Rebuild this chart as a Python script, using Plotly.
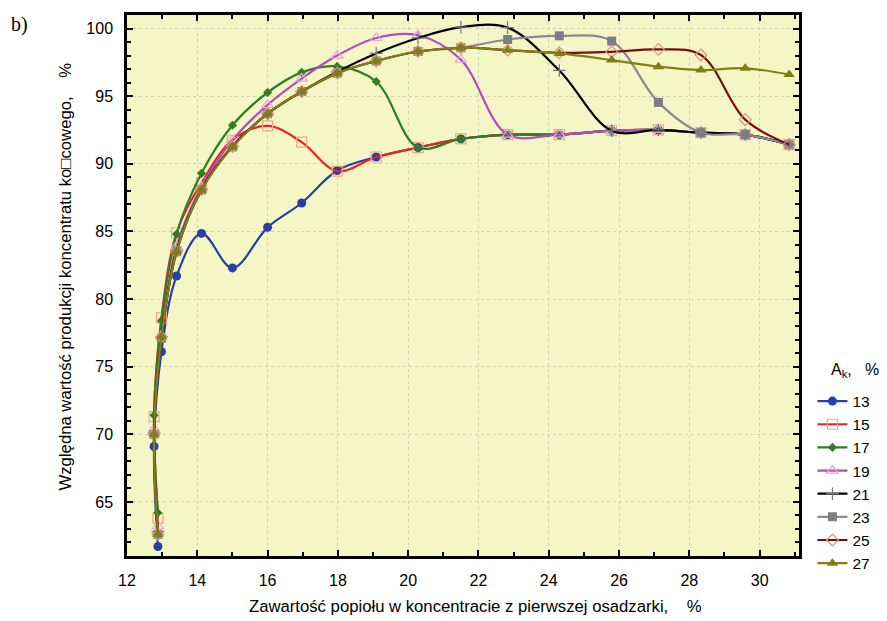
import plotly.graph_objects as go

# shared x positions (ash content of first jig concentrate, %)
x_vals = [12.88, 12.77, 12.98, 13.41, 14.12, 15.0, 16.0, 16.97, 17.98, 19.09,
          20.28, 21.5, 22.83, 24.3, 25.79, 27.12, 28.33, 29.59, 30.84]

a13 = [61.7, 69.1, 76.1, 81.7, 84.85, 82.3, 85.3, 87.1, 89.5, 90.5,
       91.2, 91.84, 92.16, 92.16, 92.45, 92.5, 92.3, 92.16, 91.42]
a15 = [63.8, 71.3, 78.6, 84.9, 88.6, 91.74, 92.8, 91.6, 89.46, 90.5,
       91.2, 91.84, 92.16, 92.16, 92.45, 92.5, 92.3, 92.16, 91.42]
a17 = [64.2, 71.4, 78.4, 84.8, 89.3, 92.85, 95.27, 96.76, 97.2, 96.08,
       91.2, 91.84, 92.16, 92.16, 92.45, 92.5, 92.3, 92.16, 91.42]
a19 = [63.2, 70.4, 77.3, 83.9, 88.3, 91.74, 94.36, 96.3, 98.0, 99.3,
       99.5, 97.7, 92.16, 92.16, 92.45, 92.5, 92.3, 92.16, 91.42]
a21 = [62.8, 70.1, 77.2, 83.6, 88.1, 91.3, 93.7, 95.34, 96.8, 98.16,
       99.3, 100.1, 100.07, 96.9, 92.45, 92.5, 92.3, 92.16, 91.42]
a23 = [62.6, 70.0, 77.1, 83.5, 88.07, 91.25, 93.7, 95.34, 96.7, 97.6,
       98.3, 98.58, 99.19, 99.46, 99.07, 94.54, 92.3, 92.16, 91.42]
a25 = [62.6, 70.0, 77.2, 83.5, 88.1, 91.3, 93.7, 95.34, 96.7, 97.6,
       98.3, 98.58, 98.4, 98.2, 98.28, 98.46, 98.04, 93.26, 91.42]
a27 = [62.6, 70.0, 77.2, 83.5, 88.07, 91.25, 93.7, 95.34, 96.7, 97.6,
       98.3, 98.58, 98.4, 98.16, 97.67, 97.18, 96.93, 97.06, 96.6]

series_names = ["13", "15", "17", "19", "21", "23", "25", "27"]
series_values = [a13, a15, a17, a19, a21, a23, a25, a27]

styles = [
    dict(line="#2441A3", mcolor="#2441A3", symbol="circle", size=9, lw=0),
    dict(line="#EE2222", mcolor="#F4A582", symbol="square-open", size=10, lw=1.2),
    dict(line="#2E7F24", mcolor="#2E7F24", symbol="diamond", size=7, lw=0),
    dict(line="#B44DBC", mcolor="#E8A3DC", symbol="triangle-up-open", size=10, lw=1.2),
    dict(line="#000000", mcolor="#777777", symbol="cross-thin", size=9, lw=1.2),
    dict(line="#8A8A94", mcolor="#7D7D88", symbol="square", size=9, lw=0),
    dict(line="#7A0E0E", mcolor="#E0907A", symbol="diamond-open", size=9, lw=1.2),
    dict(line="#7F7F14", mcolor="#7F7F14", symbol="triangle-up", size=10, lw=0),
]

fig = go.Figure()
for name, yv, st in zip(series_names, series_values, styles):
    fig.add_trace(go.Scatter(
        x=x_vals, y=yv, name=name, mode="lines+markers",
        line=dict(color=st["line"], width=2.2, shape="spline", smoothing=1.0),
        marker=dict(symbol=st["symbol"], size=st["size"], color=st["mcolor"],
                    line=dict(width=st["lw"], color=st["mcolor"])),
    ))

font_main = "Liberation Sans, Arial, sans-serif"

fig.update_layout(
    width=887, height=621,
    margin=dict(l=127, r=87, t=12, b=65),
    paper_bgcolor="white",
    plot_bgcolor="#F4F6C6",
    font=dict(family=font_main, size=16, color="black"),
    showlegend=True,
    legend=dict(
        x=1.02, y=0.317, xanchor="left", yanchor="top",
        bgcolor="rgba(0,0,0,0)",
        font=dict(size=15.5),
        tracegroupgap=0,
    ),
    xaxis=dict(
        range=[12, 31.12], dtick=2, tick0=12,
        showline=True, linecolor="black", linewidth=2.5, mirror="ticks",
        ticks="inside", ticklen=6, tickwidth=2, tickcolor="black",
        showgrid=True, gridcolor="#CFCFC6", griddash="dot", gridwidth=1,
        zeroline=False, ticklabelstandoff=8,
        tickfont=dict(size=16),
        minor=dict(dtick=1, ticks="inside", ticklen=4, tickwidth=2, tickcolor="black", showgrid=False),
    ),
    yaxis=dict(
        range=[61, 101], dtick=5, tick0=60,
        showline=True, linecolor="black", linewidth=2.5, mirror="ticks",
        ticks="inside", ticklen=6, tickwidth=2, tickcolor="black",
        showgrid=True, gridcolor="#CFCFC6", griddash="dot", gridwidth=1,
        zeroline=False, ticklabelstandoff=8,
        tickfont=dict(size=16),
        minor=dict(dtick=1, ticks="inside", ticklen=4, tickwidth=2, tickcolor="black", showgrid=False),
    ),
    annotations=[
        dict(text="b)", xref="paper", yref="paper", x=-0.176, y=0.983,
             xanchor="left", yanchor="middle", showarrow=False,
             font=dict(family="Liberation Serif, Times New Roman, serif", size=20)),
        dict(text="A<sub>k</sub>,\u00a0\u00a0\u00a0%", xref="paper", yref="paper",
             x=1.045, y=0.343, xanchor="left", yanchor="middle", showarrow=False,
             font=dict(size=16)),
        dict(text="Względna wartość produkcji koncentratu ko\u25a1cowego,\u00a0\u00a0\u00a0\u00a0%",
             xref="paper", yref="paper", x=-0.092, y=0.517, textangle=-90,
             xanchor="center", yanchor="middle", showarrow=False,
             font=dict(size=16.7)),
        dict(text="Zawartość popiołu w koncentracie z pierwszej osadzarki,\u00a0\u00a0\u00a0\u00a0%",
             xref="paper", yref="paper", x=0.519, y=-0.094,
             xanchor="center", yanchor="middle", showarrow=False,
             font=dict(size=16.7)),
    ],
)

fig.write_html("out.html")
